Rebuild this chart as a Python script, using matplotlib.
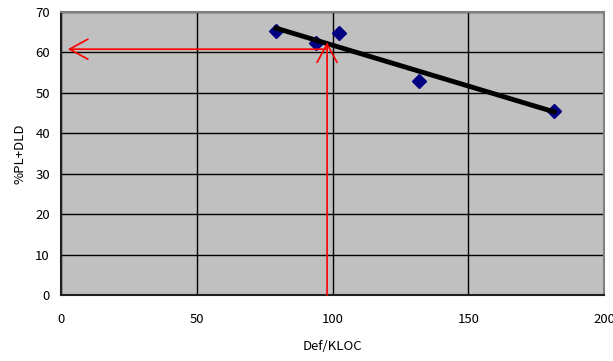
import matplotlib
matplotlib.use("Agg")
import matplotlib.pyplot as plt

plt.rcParams['font.family'] = ['Noto Sans CJK JP', 'DejaVu Sans']

# data
def_kloc = [79.2, 93.9, 102.4, 131.7, 181.6]
pct_pl_dld = [65.3, 62.3, 64.8, 53.0, 45.4]
trend_x = [79.2, 181.6]
trend_y = [66.0, 45.3]
# red reading arrows
vert_x = [98.0, 98.0]
vert_y = [0.0, 62.5]
horiz_x = [98.0, 2.5]
horiz_y = [60.8, 60.8]
xticks = [0, 50, 100, 150, 200]
yticks = [0, 10, 20, 30, 40, 50, 60, 70]

fig = plt.figure(figsize=(6.13, 3.61), dpi=100)
ax = fig.add_axes([61/613, 66/361, 543/613, 283/361])
ax.set_facecolor('#C0C0C0')
ax.set_xlim(0, 200)
ax.set_ylim(0, 70)
ax.set_xticks(xticks)
ax.set_yticks(yticks)
ax.grid(True, color='black', linewidth=1.0)
ax.set_axisbelow(True)
for s in ax.spines.values():
    s.set_color('#808080')
    s.set_linewidth(1.5)
ax.spines['left'].set_color('#202020')
ax.spines['bottom'].set_color('#202020')
ax.tick_params(length=0, labelsize=9.5)
ax.tick_params(axis='x', pad=13)
ax.tick_params(axis='y', pad=8)

ax.plot(def_kloc, pct_pl_dld, linestyle='none', marker='D', markersize=7.5,
        color='#000080', zorder=3)
ax.plot(trend_x, trend_y, color='black', linewidth=3.5, zorder=4)

arrow_style = '->,head_length=0.55,head_width=0.3'
ax.annotate('', xy=(vert_x[1], vert_y[1]), xytext=(vert_x[0], vert_y[0]),
            arrowprops=dict(arrowstyle=arrow_style, color='red', lw=1.2,
                            mutation_scale=24, shrinkA=0, shrinkB=0), zorder=5)
ax.annotate('', xy=(horiz_x[1], horiz_y[1]), xytext=(horiz_x[0], horiz_y[0]),
            arrowprops=dict(arrowstyle=arrow_style, color='red', lw=1.2,
                            mutation_scale=24, shrinkA=0, shrinkB=0), zorder=5)

ax.set_xlabel('Def/KLOC', fontsize=9.5, labelpad=10)
ax.set_ylabel('%PL+DLD', fontsize=9.5, labelpad=6)

fig.savefig('out.png', dpi=100)
